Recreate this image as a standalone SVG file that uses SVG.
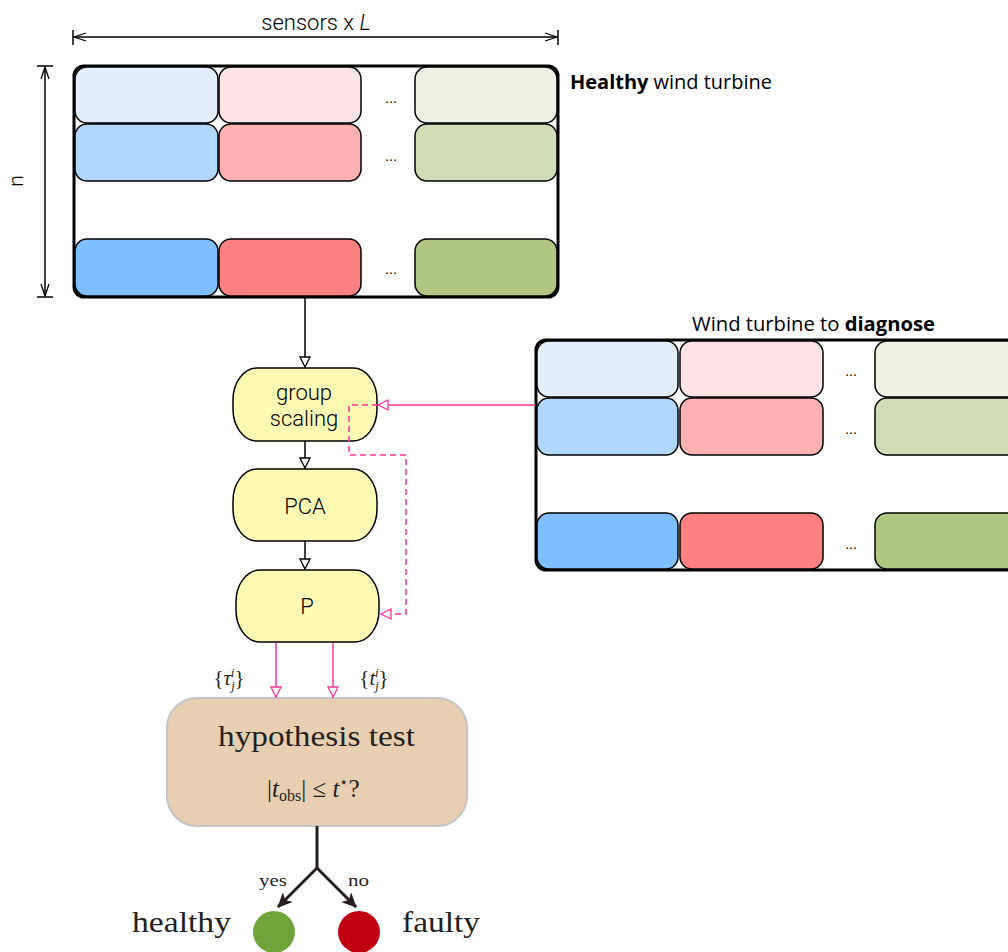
<svg xmlns="http://www.w3.org/2000/svg" width="1008" height="952" viewBox="0 0 1008 952">
<defs>
<style>
.frame{fill:#fff;stroke:#000;stroke-width:3}
.cell{stroke:#000;stroke-width:1.5}
.dots{font-family:"Liberation Sans",Arial,sans-serif;font-size:14px;fill:#000;text-anchor:middle}
.proc{fill:#fffab3;stroke:#000;stroke-width:1.5}
.plabel{font-family:Roboto,"Liberation Sans",sans-serif;font-weight:300;font-size:22px;fill:#000;text-anchor:middle}
.title{font-family:"Open Sans","Liberation Sans",sans-serif;font-size:19.5px;fill:#000}
.blk{stroke:#000;stroke-width:1.5;fill:none}
.pink{stroke:#ff3399;stroke-width:1.5;fill:none}
.serif{font-family:"Liberation Serif","DejaVu Serif",serif;fill:#231f20}
.dim{stroke:#000;stroke-width:1.5;fill:none}
</style>
<marker id="hb" viewBox="0 0 12 12" refX="11" refY="6" markerWidth="12" markerHeight="12" markerUnits="userSpaceOnUse" orient="auto">
<path d="M1,1 L11,6 L1,11 Z" fill="#fff" stroke="#000" stroke-width="1.3"/>
</marker>
<marker id="hp" viewBox="0 0 12 12" refX="11" refY="6" markerWidth="12" markerHeight="12" markerUnits="userSpaceOnUse" orient="auto">
<path d="M1,1 L11,6 L1,11 Z" fill="#fff" stroke="#ff3399" stroke-width="1.3"/>
</marker>
<marker id="dimA" viewBox="0 0 14 10" refX="13" refY="5" markerWidth="14" markerHeight="10" markerUnits="userSpaceOnUse" orient="auto">
<path d="M1,1 L13,5 L1,9" fill="none" stroke="#000" stroke-width="1.3"/>
</marker>
<marker id="fb" viewBox="0 0 16 16" refX="14" refY="8" markerWidth="16" markerHeight="16" markerUnits="userSpaceOnUse" orient="auto">
<path d="M0,1 L15,8 L0,15 L4,8 Z" fill="#231f20"/>
</marker>
</defs>

<g id="dimensions">
<line class="dim" x1="300" y1="37" x2="557" y2="37" marker-end="url(#dimA)"/>
<line class="dim" x1="300" y1="37" x2="74" y2="37" marker-end="url(#dimA)"/>
<line class="dim" x1="73" y1="30" x2="73" y2="45"/>
<line class="dim" x1="558" y1="30" x2="558" y2="45"/>
<text x="316" y="30" text-anchor="middle" font-family="Roboto,'Liberation Sans',sans-serif" font-weight="300" font-size="22">sensors x <tspan font-style="italic">L</tspan></text>
<line class="dim" x1="45" y1="180" x2="45" y2="67" marker-end="url(#dimA)"/>
<line class="dim" x1="45" y1="180" x2="45" y2="296" marker-end="url(#dimA)"/>
<line class="dim" x1="37" y1="66" x2="53" y2="66"/>
<line class="dim" x1="37" y1="297" x2="53" y2="297"/>
<text x="23" y="181" text-anchor="middle" transform="rotate(-90 23 181)" font-family="Roboto,'Liberation Sans',sans-serif" font-weight="300" font-size="21">n</text>
</g>

<g id="healthy-turbine">
<rect class="frame" x="74" y="66" width="484" height="231" rx="10"/>
<rect class="cell" x="75" y="67" width="143" height="56" rx="12" fill="#e3efff"/>
<rect class="cell" x="219" y="67" width="142" height="56" rx="12" fill="#ffe3e6"/>
<rect class="cell" x="415" y="67" width="142" height="56" rx="12" fill="#eef2e5"/>
<rect class="cell" x="75" y="124" width="143" height="57" rx="12" fill="#b2d7ff"/>
<rect class="cell" x="219" y="124" width="142" height="57" rx="12" fill="#ffb0b3"/>
<rect class="cell" x="415" y="124" width="142" height="57" rx="12" fill="#d0dcb4"/>
<rect class="cell" x="75" y="239" width="143" height="57" rx="12" fill="#80bfff"/>
<rect class="cell" x="219" y="239" width="142" height="57" rx="12" fill="#ff8080"/>
<rect class="cell" x="415" y="239" width="142" height="57" rx="12" fill="#b0c683"/>
<text class="dots" x="391" y="103">...</text>
<text class="dots" x="391" y="161">...</text>
<text class="dots" x="391" y="274">...</text>
<text class="title" x="570" y="89" textLength="202" lengthAdjust="spacingAndGlyphs"><tspan font-weight="bold">Healthy</tspan> wind turbine</text>
</g>

<g id="diagnose-turbine">
<rect class="frame" x="536" y="340" width="490" height="230" rx="10"/>
<rect class="cell" x="537" y="341" width="141" height="56" rx="12" fill="#e3efff"/>
<rect class="cell" x="680" y="341" width="143" height="56" rx="12" fill="#ffe3e6"/>
<rect class="cell" x="875" y="341" width="150" height="56" rx="12" fill="#eef2e5"/>
<rect class="cell" x="537" y="398" width="141" height="57" rx="12" fill="#b2d7ff"/>
<rect class="cell" x="680" y="398" width="143" height="57" rx="12" fill="#ffb0b3"/>
<rect class="cell" x="875" y="398" width="150" height="57" rx="12" fill="#d0dcb4"/>
<rect class="cell" x="537" y="513" width="141" height="56" rx="12" fill="#80bfff"/>
<rect class="cell" x="680" y="513" width="143" height="56" rx="12" fill="#ff8080"/>
<rect class="cell" x="875" y="513" width="150" height="56" rx="12" fill="#b0c683"/>
<text class="dots" x="851" y="376">...</text>
<text class="dots" x="851" y="434">...</text>
<text class="dots" x="851" y="549">...</text>
<text class="title" x="692" y="331" textLength="243" lengthAdjust="spacingAndGlyphs">Wind turbine to <tspan font-weight="bold">diagnose</tspan></text>
</g>

<g id="group-scaling">
<rect class="proc" x="233" y="368" width="144" height="73" rx="24" ry="32"/>
<text class="plabel" x="304" y="400">group</text>
<text class="plabel" x="304" y="426">scaling</text>
</g>
<g id="pca">
<rect class="proc" x="233" y="469" width="144" height="72" rx="24" ry="32"/>
<text class="plabel" x="305" y="514">PCA</text>
</g>
<g id="p">
<rect class="proc" x="236" y="570" width="143" height="72" rx="24" ry="32"/>
<text class="plabel" x="307" y="614">P</text>
</g>

<g id="hypothesis-test">
<rect x="167" y="698" width="300" height="128" rx="30" fill="#e9cfb2" stroke="#c3c3c9" stroke-width="2"/>
<text class="serif" x="218" y="746" font-size="29" textLength="197" lengthAdjust="spacingAndGlyphs">hypothesis test</text>
<text class="serif" x="267" y="797" font-size="25">|<tspan font-style="italic">t</tspan><tspan font-size="16" dy="4">obs</tspan><tspan dy="-4">| ≤ </tspan><tspan font-style="italic">t</tspan><tspan font-size="15" dy="-10">⋆</tspan><tspan dy="10">?</tspan></text>
</g>

<g id="healthy-outcome">
<circle cx="274" cy="932" r="21" fill="#70a33a"/>
<text class="serif" x="132" y="932" font-size="29" textLength="99" lengthAdjust="spacingAndGlyphs">healthy</text>
</g>
<g id="faulty-outcome">
<circle cx="359" cy="932" r="21" fill="#c00010"/>
<text class="serif" x="402" y="932" font-size="29" textLength="78" lengthAdjust="spacingAndGlyphs">faulty</text>
</g>

<g id="connectors">
<line class="blk" x1="305" y1="298" x2="305" y2="367" marker-end="url(#hb)"/>
<line class="blk" x1="305" y1="441" x2="305" y2="468" marker-end="url(#hb)"/>
<line class="blk" x1="305" y1="541" x2="305" y2="569" marker-end="url(#hb)"/>
<line class="pink" x1="535" y1="405" x2="378" y2="405" marker-end="url(#hp)"/>
<path class="pink" d="M378,405 H349 V455 H406 V614 H381" stroke-dasharray="6,4" marker-end="url(#hp)"/>
<line class="pink" x1="276" y1="643" x2="276" y2="697" marker-end="url(#hp)"/>
<line class="pink" x1="333" y1="643" x2="333" y2="697" marker-end="url(#hp)"/>
<text class="serif" x="229" y="685" text-anchor="middle" font-size="21" fill="#444">{<tspan font-style="italic">τ</tspan><tspan font-size="13" font-style="italic" dy="5">j</tspan><tspan font-size="13" font-style="italic" dx="-4" dy="-13">i</tspan><tspan dy="8">}</tspan></text>
<text class="serif" x="374" y="685" text-anchor="middle" font-size="21" fill="#444">{<tspan font-style="italic">t</tspan><tspan font-size="13" font-style="italic" dy="5">j</tspan><tspan font-size="13" font-style="italic" dx="-4" dy="-13">i</tspan><tspan dy="8">}</tspan></text>
<path d="M317,826 V868" stroke="#231f20" stroke-width="3" fill="none"/>
<line x1="317" y1="868" x2="278" y2="907" stroke="#231f20" stroke-width="3" marker-end="url(#fb)"/>
<line x1="317" y1="868" x2="356" y2="907" stroke="#231f20" stroke-width="3" marker-end="url(#fb)"/>
<text class="serif" x="259" y="886" font-size="17" textLength="28" lengthAdjust="spacingAndGlyphs">yes</text>
<text class="serif" x="348" y="886" font-size="17" textLength="21" lengthAdjust="spacingAndGlyphs">no</text>
</g>
</svg>
